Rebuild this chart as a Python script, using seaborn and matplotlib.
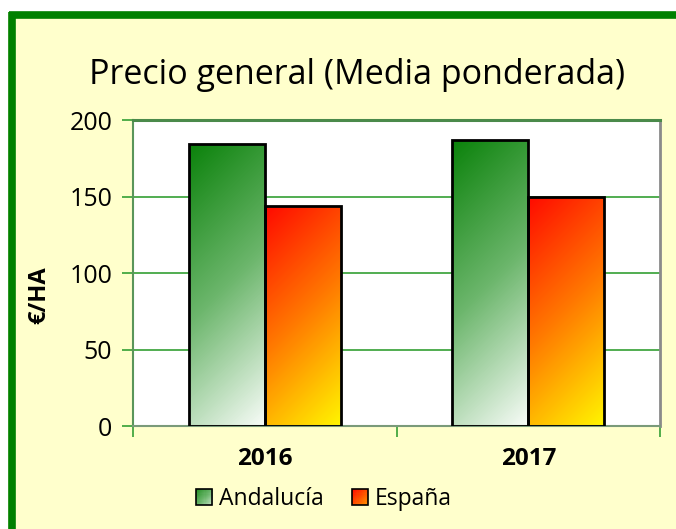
import numpy as np
import pandas as pd
import matplotlib
matplotlib.use("Agg")
import matplotlib.pyplot as plt
import seaborn as sns
from matplotlib.patches import Rectangle
from matplotlib.lines import Line2D
from matplotlib.colors import LinearSegmentedColormap
from matplotlib.legend_handler import HandlerBase

# ---- data ----
years = ["2016", "2017"]
series = ["Andalucía", "España"]
andalucia = [184.3, 186.7]
espana = [143.5, 150.0]
y_ticks = [0, 50, 100, 150, 200]
title = "Precio general (Media ponderada)"
ylabel = "€/HA"

df = pd.DataFrame({
    "Año": years * 2,
    "Región": [series[0]] * len(years) + [series[1]] * len(years),
    "Precio": andalucia + espana,
})

sns.set_theme(style="white")
plt.rcParams["font.family"] = ["Open Sans", "DejaVu Sans"]
plt.rcParams["text.color"] = "black"
plt.rcParams["axes.labelcolor"] = "black"

W, H = 676, 529
fig = plt.figure(figsize=(W / 100, H / 100), dpi=100)
fig.patch.set_facecolor("white")

# yellow panel with green left/top border
fig.patches.append(Rectangle((8 / W, 0), 1, (H - 12) / H, transform=fig.transFigure,
                             facecolor="#FFFFCC", edgecolor="none", zorder=-10))
fig.add_artist(Line2D([12 / W, 12 / W], [0, (H - 12) / H], color="#008000", lw=5.5,
                      transform=fig.transFigure, solid_capstyle="butt"))
fig.add_artist(Line2D([9 / W, 1], [(H - 15) / H, (H - 15) / H], color="#008000", lw=5.5,
                      transform=fig.transFigure, solid_capstyle="butt"))

ax = fig.add_axes([133 / W, 1 - 426 / H, (660 - 133) / W, (426 - 120) / H])
ax.set_facecolor("white")

cmap_green = LinearSegmentedColormap.from_list("g", ["#0B820B", "#6CB66C", "#F8FCF8"])
cmap_red = LinearSegmentedColormap.from_list("r", ["#FF0A00", "#FF7A00", "#FFF500"])
cmaps = [cmap_green, cmap_red]

sns.barplot(data=df, x="Año", y="Precio", hue="Región", order=years, hue_order=series,
            palette=["#5AAA5A", "#FF8000"], width=0.576, edgecolor="black", linewidth=2.0,
            legend=False, ax=ax, zorder=3)

ax.set_xlim(-0.5, 1.5)
ax.set_ylim(0, 200)

# gradient fill clipped to each bar
fig.canvas.draw()
for cont, cmap in zip(ax.containers, cmaps):
    for bar in cont:
        x0, y0 = bar.get_x(), bar.get_y()
        w, h = bar.get_width(), bar.get_height()
        p0 = ax.transData.transform((x0, y0))
        p1 = ax.transData.transform((x0 + w, y0 + h))
        wp, hp = max(int(abs(p1[0] - p0[0])), 2), max(int(abs(p1[1] - p0[1])), 2)
        xx, yy = np.meshgrid(np.arange(wp), np.arange(hp))
        t = (xx + yy) / float(wp + hp - 2)
        img = cmap(t)
        im = ax.imshow(img, extent=(x0, x0 + w, y0, y0 + h), origin="upper",
                       aspect="auto", zorder=2.5, interpolation="bilinear")
        im.set_clip_path(bar)
        bar.set_facecolor("none")

ax.set_xlim(-0.5, 1.5)
ax.set_ylim(0, 200)

# grid & spines
ax.set_yticks(y_ticks)
ax.yaxis.grid(True, color="#34A034", lw=1.2, zorder=0)
ax.xaxis.grid(False)
ax.set_axisbelow(True)
ax.spines["top"].set_color("#4A8A4A")
ax.spines["top"].set_linewidth(2.2)
ax.spines["right"].set_color("#8A8A8A")
ax.spines["right"].set_linewidth(2)
ax.spines["left"].set_color("#5A965A")
ax.spines["left"].set_linewidth(1.5)
ax.spines["bottom"].set_color("#7A9A7A")
ax.spines["bottom"].set_linewidth(1.5)

ax.tick_params(axis="y", which="major", length=8, width=1.2, color="#34A034",
               direction="out", pad=7, labelsize=18, labelcolor="black", left=True)
ax.set_xticks([0, 1])
ax.set_xticklabels(years, fontweight="bold", fontsize=17.5)
ax.set_xticks([-0.5, 0.5, 1.5], minor=True)
ax.tick_params(axis="x", which="major", length=0, pad=15, labelcolor="black")
ax.tick_params(axis="x", which="minor", length=8, width=1.2, color="#34A034",
               direction="out", bottom=True)

ax.set_xlabel("")
ax.set_ylabel(ylabel, fontsize=17, fontweight="bold", color="black")
ax.yaxis.set_label_coords(-0.155, 0.428)

fig.text(357 / W, 1 - 75 / H, title, ha="center", va="center", fontsize=24.5, color="black")


class GradHandler(HandlerBase):
    def __init__(self, cmap, lo, hi):
        super().__init__()
        self.cmap, self.lo, self.hi = cmap, lo, hi

    def create_artists(self, legend, orig_handle, xdescent, ydescent, width, height,
                       fontsize, trans):
        s = min(width, height)
        x0 = -xdescent + (width - s) / 2
        y0 = -ydescent + (height - s) / 2
        n = 14
        arts = []
        for i in range(n):
            for j in range(n):
                tt = self.lo + (self.hi - self.lo) * (i + j) / (2 * (n - 1))
                arts.append(Rectangle((x0 + i * s / n, y0 + s - (j + 1) * s / n), s / n * 1.05,
                                      s / n * 1.05, facecolor=self.cmap(tt), edgecolor="none",
                                      transform=trans))
        arts.append(Rectangle((x0, y0), s, s, facecolor="none", edgecolor="black", lw=1.2,
                              transform=trans))
        return arts


h1 = Rectangle((0, 0), 1, 1)
h2 = Rectangle((0, 0), 1, 1)
fig.legend([h1, h2], series, loc="center", bbox_to_anchor=(324 / W, 1 - 499 / H), ncol=2,
           frameon=False, fontsize=16.5, handlelength=0.7, handleheight=0.7,
           handletextpad=0.3, columnspacing=1.2, labelcolor="black",
           handler_map={h1: GradHandler(cmap_green, 0.15, 0.8), h2: GradHandler(cmap_red, 0.0, 0.6)})

fig.savefig("out.png", dpi=100, facecolor=fig.get_facecolor())
